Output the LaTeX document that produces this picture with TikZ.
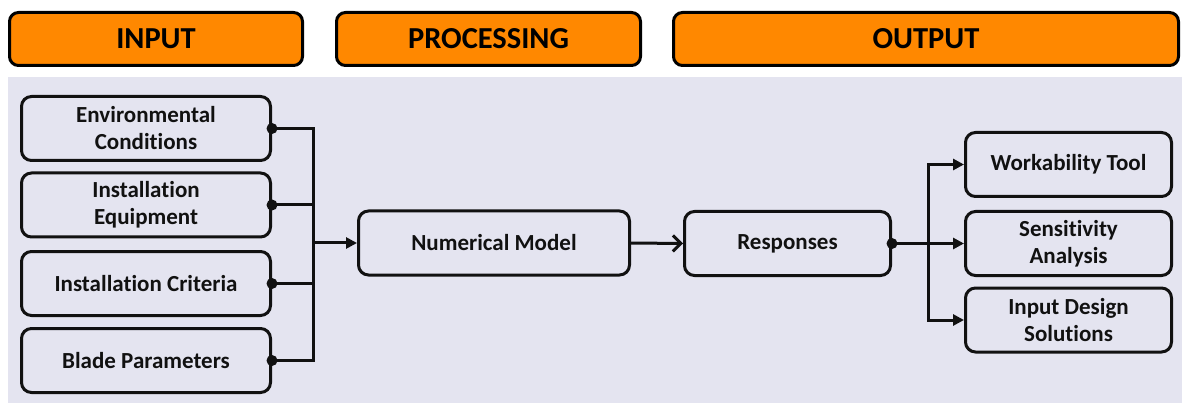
\documentclass[tikz,border=0pt]{standalone}
\usepackage{fontspec}
\setmainfont{Carlito}[Ligatures=NoCommon]
\usetikzlibrary{arrows.meta}
\definecolor{headorange}{RGB}{255,136,0}
\definecolor{panelgray}{RGB}{228,228,240}
\definecolor{inkblack}{RGB}{17,17,17}

\begin{document}
\begin{tikzpicture}[x=1pt,y=-1pt,>={Triangle[length=11pt,width=11pt]},
	head/.style={draw=black,fill=headorange,line width=3pt,% 
		rounded corners=9pt,minimum height=53pt,inner sep=0pt,%
		font=\fontsize{30.5}{36}\selectfont\bfseries},
	block/.style={draw=inkblack,fill=panelgray,line width=3pt,%
		rounded corners=10pt,minimum height=64pt,inner sep=0pt,%
		align=center,text=inkblack,%
		font=\fontsize{23}{27}\selectfont\bfseries},
	inbox/.style={block,minimum width=249pt},
	outbox/.style={block,minimum width=206pt},
	link/.style={draw=inkblack,line width=3pt},
	dot/.style={circle,fill=inkblack,inner sep=0pt,minimum size=11pt}]
	\useasboundingbox (0,0) rectangle (1182,403);
	% panel
	\fill[panelgray] (8,77) rectangle (1182,403);
	% headers
	\node[head,minimum width=293pt] (hin) at (156,39) {INPUT};
	\node[head,minimum width=304pt] (hproc) at (488.5,39) {PROCESSING};
	\node[head,minimum width=505pt] (hout) at (926,39) {OUTPUT};
	% inputs
	\node[inbox] (in1) at (146,128.5) {Environmental\\Conditions};
	\node[inbox] (in2) at (146,205) {Installation\\Equipment};
	\node[inbox] (in3) at (146,283.5) {Installation Criteria};
	\node[inbox] (in4) at (146,360.5) {Blade Parameters};
	% processing
	\node[block,minimum width=271pt] (model) at (494,243) {Numerical Model};
	\node[block,minimum width=206pt] (resp) at (787.5,243.5) {Responses};
	% outputs
	\node[outbox] (out1) at (1068.5,164.5) {Workability Tool};
	\node[outbox] (out2) at (1068.5,243.5) {Sensitivity\\Analysis};
	\node[outbox] (out3) at (1068.5,320) {Input Design\\Solutions};
	% input bus
	\coordinate (inbus) at (313,243);
	\draw[link] (in1.east) -| (inbus) |- (in4.east);
	\foreach \i in {2,3}
		\draw[link] (in\i.east) -- (in\i.east -| inbus);
	\draw[link,->] (inbus |- model.west) -- (model.west);
	\foreach \i in {1,...,4}
		\node[dot] (d\i) at (in\i.east) {};
	% model to responses
	\draw[link,-{Straight Barb[length=8pt,width=16pt,line width=3pt]}] (model.east) -- (resp.west);
	% output bus
	\coordinate (outbus) at (928,243.5);
	\draw[link,->] (resp.east) -- (out2.west);
	\draw[link,->] (outbus) |- (out1.west);
	\draw[link,->] (outbus) |- (out3.west);
	\node[dot] (d5) at (resp.east) {};
\end{tikzpicture}
\end{document}
